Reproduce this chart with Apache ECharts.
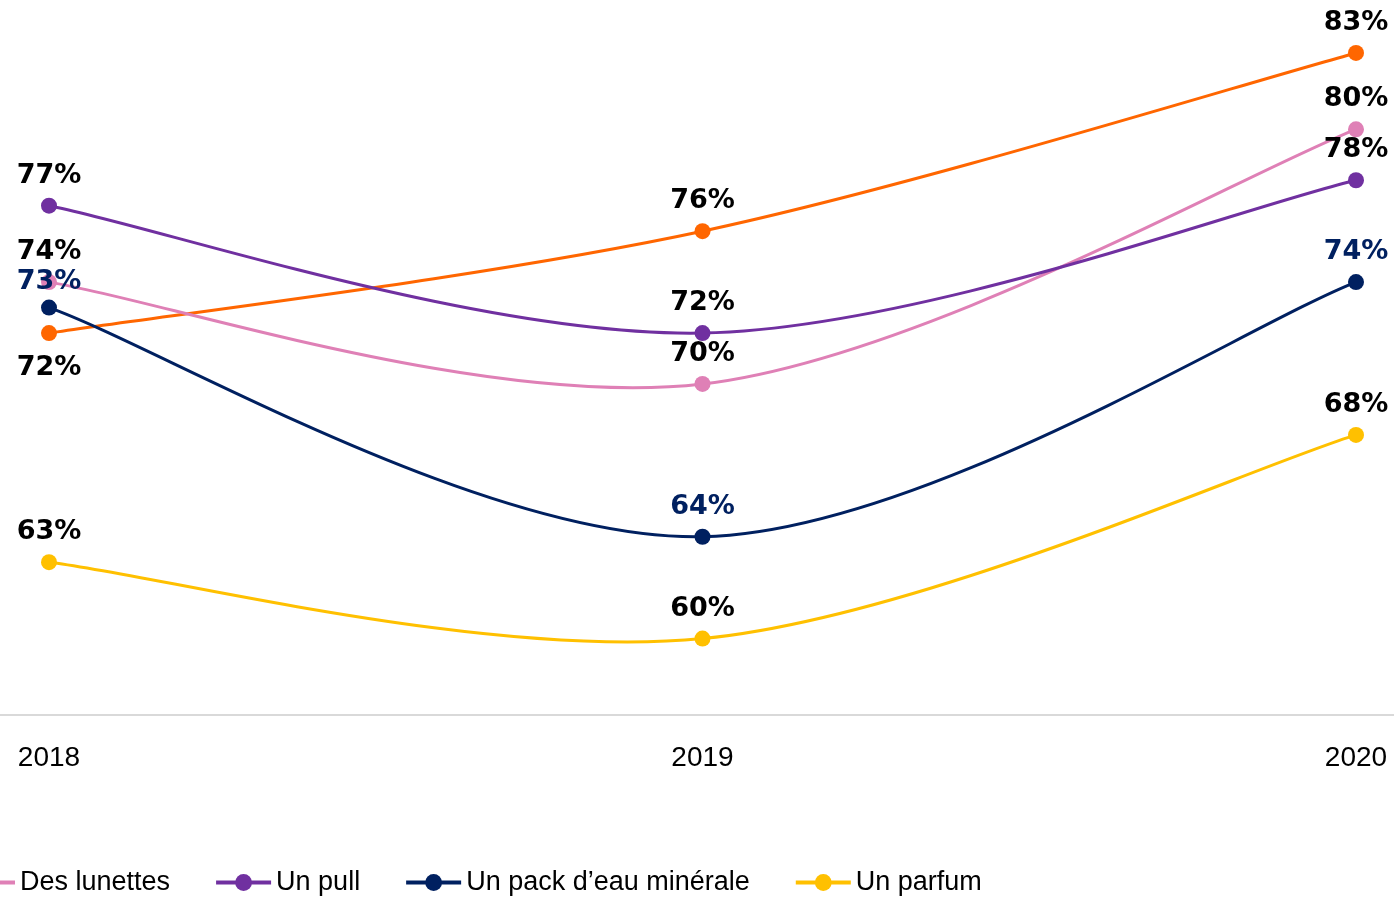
<!DOCTYPE html>
<html>
<head>
<meta charset="utf-8">
<script src="https://cdn.jsdelivr.net/npm/echarts@6/dist/echarts.min.js"></script>
<style>html,body{margin:0;padding:0;background:#fff;}#chart{width:1394px;height:898px;}</style>
</head>
<body>
<div id="chart"></div>
<script>
const categories = ['2018', '2019', '2020'];
const serieOrange = [72, 76, 83];
const lunettes = [74, 70, 80];
const pull = [77, 72, 78];
const packEau = [73, 64, 74];
const parfum = [63, 60, 68];
const legendNames = ['Des lunettes', 'Un pull', 'Un pack d’eau minérale', 'Un parfum'];

const seriesDefs = [
  { name: 'Série orange', data: serieOrange, color: '#FF6600', label: '#000' },
  { name: 'Des lunettes', data: lunettes, color: '#DF80B6', label: '#000' },
  { name: 'Un pull', data: pull, color: '#7030A0', label: '#000' },
  { name: 'Un pack d’eau minérale', data: packEau, color: '#002060', label: '#002060' },
  { name: 'Un parfum', data: parfum, color: '#FFC000', label: '#000' }
];

// Excel-style smoothed line (Catmull-Rom, tension 1/6) through the library's own scales
function smoothLine(def, idx) {
  const vals = def.data;
  const n = vals.length;
  return {
    name: '_line' + idx, type: 'custom', coordinateSystem: 'cartesian2d',
    xAxisIndex: 0, yAxisIndex: 0, z: 1, silent: true,
    data: vals.slice(0, n - 1).map((v, i) => [i, v]),
    renderItem: function (params, api) {
      const i = params.dataIndex;
      const c = k => { k = Math.max(0, Math.min(n - 1, k)); return api.coord([k, vals[k]]); };
      const p0 = c(i - 1), p1 = c(i), p2 = c(i + 1), p3 = c(i + 2);
      return {
        type: 'bezierCurve',
        shape: {
          x1: p1[0], y1: p1[1], x2: p2[0], y2: p2[1],
          cpx1: p1[0] + (p2[0] - p0[0]) / 6, cpy1: p1[1] + (p2[1] - p0[1]) / 6,
          cpx2: p2[0] - (p3[0] - p1[0]) / 6, cpy2: p2[1] - (p3[1] - p1[1]) / 6
        },
        style: { stroke: def.color, lineWidth: 3, fill: null, lineCap: 'round' }
      };
    }
  };
}

function markers(def) {
  return {
    name: def.name, type: 'line', data: def.data.slice(),
    xAxisIndex: 0, yAxisIndex: 0, z: 2,
    symbol: 'circle', symbolSize: 16, showSymbol: true,
    lineStyle: { color: def.color, width: 3, opacity: 0 },
    itemStyle: { color: def.color },
    label: {
      show: true, position: 'top', distance: 8.5, color: def.label,
      fontFamily: 'DejaVu Sans', fontWeight: 'bold', fontSize: 27,
      formatter: p => p.value + '%'
    },
    emphasis: { disabled: true }
  };
}

const lineSeries = seriesDefs.map(smoothLine);
const markerSeries = seriesDefs.map(markers);
// label placement tweaks
markerSeries[0].data[0] = { value: serieOrange[0], label: { position: 'bottom', distance: 13 } };
markerSeries[3].data[0] = { value: packEau[0], label: { distance: 4.5 } };

const option = {
  animation: false,
  backgroundColor: '#fff',
  grid: [
    { left: 49, right: 38, top: 2, bottom: 183 },
    { left: 0, right: 0, top: 2, bottom: 183 }
  ],
  xAxis: [
    { type: 'category', gridIndex: 0, data: categories, boundaryGap: false,
      axisLine: { show: false }, axisTick: { show: false },
      axisLabel: { color: '#000', fontFamily: 'Liberation Sans', fontSize: 28, margin: 29 } },
    { type: 'value', gridIndex: 1, min: 0, max: 1,
      axisLine: { show: true, onZero: false, lineStyle: { color: '#D9D9D9', width: 2 } },
      axisTick: { show: false }, axisLabel: { show: false }, splitLine: { show: false } }
  ],
  yAxis: [
    { type: 'value', gridIndex: 0, min: 57, max: 85, show: false, splitLine: { show: false } },
    { type: 'value', gridIndex: 1, min: 0, max: 1, show: false, splitLine: { show: false } }
  ],
  legend: {
    data: legendNames, left: -47, top: 864, itemWidth: 55, itemHeight: 21, itemGap: 44,
    textStyle: { color: '#000', fontFamily: 'Liberation Sans', fontSize: 27 },
    lineStyle: { width: 4, opacity: 1 }
  },
  series: lineSeries.concat(markerSeries)
};
const chart = echarts.init(document.getElementById('chart'));
chart.setOption(option);
</script>
</body>
</html>
